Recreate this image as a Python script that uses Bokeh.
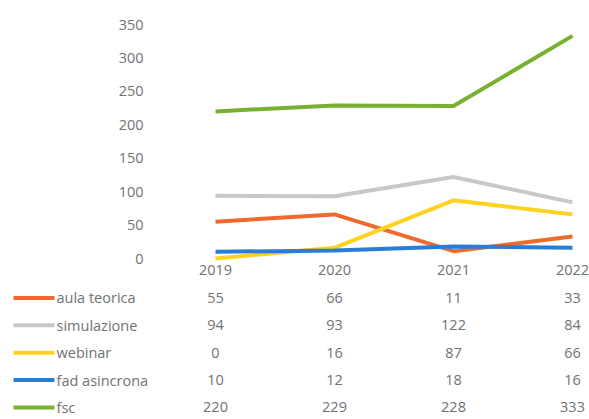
from bokeh.plotting import figure
from bokeh.models import Range1d
from bokeh.core.properties import value
from bokeh.embed import file_html
from bokeh.resources import INLINE

years = ["2019", "2020", "2021", "2022"]
series_names = ["aula teorica", "simulazione", "webinar", "fad asincrona", "fsc"]
aula_teorica = [55, 66, 11, 33]
simulazione = [94, 93, 122, 84]
webinar = [0, 16, 87, 66]
fad_asincrona = [10, 12, 18, 16]
fsc = [220, 229, 228, 333]
y_ticks = [0, 50, 100, 150, 200, 250, 300, 350]

series_values = [aula_teorica, simulazione, webinar, fad_asincrona, fsc]
colors = ["#EE6A2E", "#C8C8C8", "#FFD21F", "#2A7DD6", "#78B030"]

FONT = "Open Sans"
TXT = "#727272"
FS = "14.5px"

p = figure(width=589, height=419, output_backend="svg", toolbar_location=None,
           x_range=Range1d(-1.8067, 3.1429), y_range=Range1d(-240.8, 385.9),
           min_border=0, min_border_left=0, min_border_right=0,
           min_border_top=0, min_border_bottom=0)
p.axis.visible = False
p.grid.visible = False
p.outline_line_color = None
p.background_fill_color = "white"

# table rows range (row 0 = years, rows 1..5 = series), flipped
p.extra_y_ranges = {"table": Range1d(start=5.438, end=-9.854)}

xs = list(range(len(years)))

for vals, col in zip(series_values, colors):
    p.line(xs, vals, line_color=col, line_width=4, line_join="round")

# y tick labels
p.text(x=[-0.605] * len(y_ticks), y=y_ticks, text=[str(t) for t in y_ticks],
       text_align="right", text_baseline="middle", text_font=value(FONT),
       text_font_size=FS, text_color=TXT)

# year header row
p.text(x=xs, y=[0] * len(xs), text=years, y_range_name="table",
       text_align="center", text_baseline="middle", text_font=value(FONT),
       text_font_size=FS, text_color=TXT)

# data table rows with legend keys
for r, (name, vals, col) in enumerate(zip(series_names, series_values, colors), start=1):
    p.text(x=xs, y=[r] * len(xs), text=[str(v) for v in vals], y_range_name="table",
           text_align="center", text_baseline="middle", text_font=value(FONT),
           text_font_size=FS, text_color=TXT)
    p.segment(x0=[-1.6975], y0=[r], x1=[-1.353], y1=[r], y_range_name="table",
              line_color=col, line_width=4)
    p.text(x=[-1.336], y=[r], text=[name], y_range_name="table",
           text_align="left", text_baseline="middle", text_font=value(FONT),
           text_font_size=FS, text_color=TXT)

open("out.html", "w").write(file_html(p, INLINE))
